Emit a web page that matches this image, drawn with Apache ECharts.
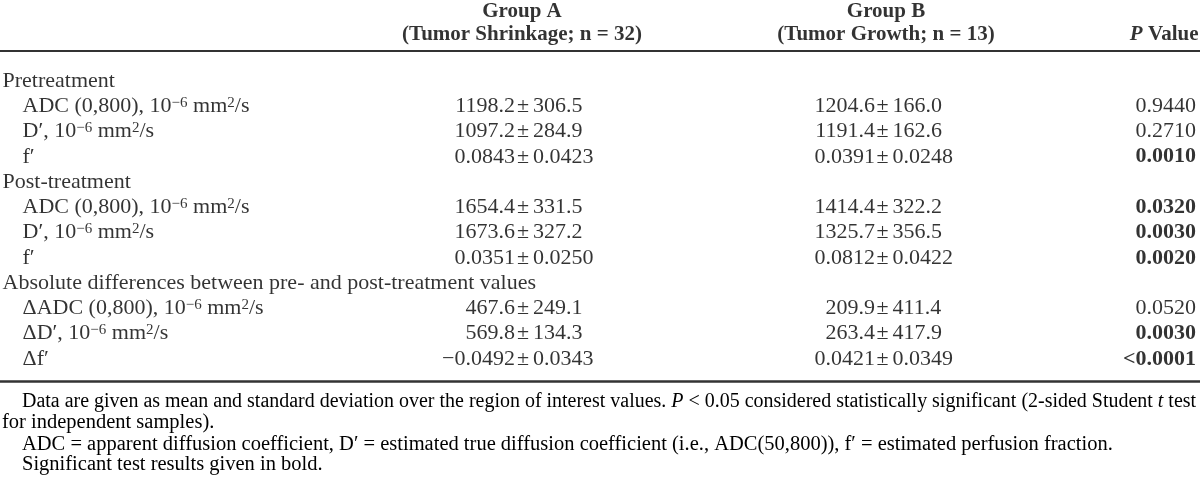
<!DOCTYPE html>
<html><head><meta charset="utf-8">
<script src="https://cdn.jsdelivr.net/npm/echarts@6/dist/echarts.min.js"></script>
<style>html,body{margin:0;padding:0;background:#fff}#c{width:1200px;height:482px}</style>
</head><body><div id="c"></div>
<script>
// ---------- DATA ----------
const sectionLabels = ['Pretreatment', 'Post-treatment', 'Absolute differences between pre- and post-treatment values'];
const measureLabels = ['ADC (0,800), 10{sup|\u22126} mm{sup|2}/s', 'D\u2032, 10{sup|\u22126} mm{sup|2}/s', 'f\u2032'];
const deltaLabels = ['\u0394ADC (0,800), 10{sup|\u22126} mm{sup|2}/s', '\u0394D\u2032, 10{sup|\u22126} mm{sup|2}/s', '\u0394f\u2032'];
const groupAMean = ['1198.2', '1097.2', '0.0843', '1654.4', '1673.6', '0.0351', '467.6', '569.8', '\u22120.0492'];
const groupASD   = ['306.5', '284.9', '0.0423', '331.5', '327.2', '0.0250', '249.1', '134.3', '0.0343'];
const groupBMean = ['1204.6', '1191.4', '0.0391', '1414.4', '1325.7', '0.0812', '209.9', '263.4', '0.0421'];
const groupBSD   = ['166.0', '162.6', '0.0248', '322.2', '356.5', '0.0422', '411.4', '417.9', '0.0349'];
const pValues    = ['0.9440', '0.2710', '0.0010', '0.0320', '0.0030', '0.0020', '0.0520', '0.0030', '<0.0001'];
const headerA = ['Group A', '(Tumor Shrinkage; n = 32)'];
const headerB = ['Group B', '(Tumor Growth; n = 13)'];
const headerP = '{i|P} Value';
const notes = [
  'Data are given as mean and standard deviation over the region of interest values. {i|P} < 0.05 considered statistically significant (2-sided Student {i|t} test',
  'for independent samples).',
  'ADC = apparent diffusion coefficient, D\u2032 = estimated true diffusion coefficient (i.e., ADC(50,800)), f\u2032 = estimated perfusion fraction.',
  'Significant test results given in bold.'
];

// ---------- LAYOUT (positions in axis units) ----------
const X = {section: 2, measure: 22, aMeanR: 515.5, aPm: 523, aSdL: 532.5, bMeanR: 875.5, bPm: 882.5, bSdL: 892, pR: 1196.5, aHead: 522, bHead: 886, pHead: 1199};
const HEAD_ROWS = [-2.73, -1.82];
const FONT = '"Liberation Serif", "Times New Roman", serif';
const FS = 22;
const HFS = 21;
const COLOR = '#000';
const RULE = '#333';

// build rows
const rows = [];
sectionLabels.forEach((s, si) => {
  rows.push({label: s, section: true});
  const labs = si === 2 ? deltaLabels : measureLabels;
  labs.forEach((l, mi) => rows.push({label: l, section: false, k: si * 3 + mi}));
});

const RICH = {
  sup: {fontFamily: FONT, fontSize: 15, lineHeight: 10, verticalAlign: 'top', color: COLOR},
  i: {fontFamily: FONT, fontSize: FS, fontStyle: 'italic', color: COLOR},
  bi: {fontFamily: FONT, fontSize: HFS, fontStyle: 'italic', fontWeight: 'bold', color: COLOR}
};

function textSeries(points, position, extra) {
  return {
    type: 'scatter', xAxisIndex: 0, yAxisIndex: 0, symbolSize: 1, clip: false, silent: true,
    itemStyle: {color: 'rgba(0,0,0,0)'},
    data: points.map(p => ({value: [p.x, p.y], label: Object.assign({formatter: p.text}, p.label || {})})),
    label: Object.assign({show: true, position: position, distance: 0, color: COLOR, fontFamily: FONT,
      fontSize: FS, lineHeight: 22, textBorderWidth: 0, rich: RICH}, extra || {}),
    emphasis: {disabled: true}
  };
}

const labelPts = rows.map((r, i) => ({x: r.section ? X.section : X.measure, y: i, text: r.label}));
const valRows = rows.map((r, i) => ({r, i})).filter(o => !o.r.section);
const aMeanPts = valRows.map(o => ({x: X.aMeanR, y: o.i, text: groupAMean[o.r.k]}));
const aPmPts = valRows.map(o => ({x: X.aPm, y: o.i, text: '\u00b1'}));
const aSdPts = valRows.map(o => ({x: X.aSdL, y: o.i, text: groupASD[o.r.k]}));
const bMeanPts = valRows.map(o => ({x: X.bMeanR, y: o.i, text: groupBMean[o.r.k]}));
const bPmPts = valRows.map(o => ({x: X.bPm, y: o.i, text: '\u00b1'}));
const bSdPts = valRows.map(o => ({x: X.bSdL, y: o.i, text: groupBSD[o.r.k]}));
const pPts = valRows.map(o => {
  const t = pValues[o.r.k];
  const sig = parseFloat(t.replace('<', '')) < 0.05;
  return {x: X.pR, y: o.i, text: t, label: {fontWeight: sig ? 'bold' : 'normal'}};
});
const headCenterPts = [
  {x: X.aHead, y: HEAD_ROWS[0], text: headerA[0]}, {x: X.aHead, y: HEAD_ROWS[1], text: headerA[1]},
  {x: X.bHead, y: HEAD_ROWS[0], text: headerB[0]}, {x: X.bHead, y: HEAD_ROWS[1], text: headerB[1]}
];
const headPPts = [{x: X.pHead, y: HEAD_ROWS[1], text: headerP}];

const chart = echarts.init(document.getElementById('c'), null, {renderer: 'canvas'});

// notes
const NFS = 20.5;
const nfont = NFS + 'px "Liberation Serif"';
const ctx = document.createElement('canvas').getContext('2d');
ctx.font = nfont;
const noteX = [22, 2, 22, 22];
const noteY = [402, 423, 445, 465];
const graphics = notes.map((t, i) => {
  let scaleX = 1;
  if (i === 0) {
    const plain = t.replace(/\{i\|([^}]*)\}/g, '$1');
    scaleX = (1195 - 22) / ctx.measureText(plain).width;
  }
  return {
    type: 'text', x: noteX[i], y: noteY[i], scaleX: scaleX, silent: true,
    style: {text: t, font: nfont, fill: COLOR, align: 'left', verticalAlign: 'middle',
      rich: {i: {font: 'italic ' + nfont, fill: COLOR}}}
  };
});

const ruleAxis = (pos, w) => ({
  type: 'value', min: 0, max: 1200, position: pos,
  axisLine: {show: true, onZero: false, lineStyle: {color: RULE, width: w}},
  axisTick: {show: false}, axisLabel: {show: false}, splitLine: {show: false}
});

chart.setOption({
  animation: false,
  backgroundColor: '#fff',
  grid: {left: 0, right: 0, top: 51, bottom: 101, containLabel: false},
  xAxis: [ruleAxis('top', 2), ruleAxis('bottom', 2.5)],
  yAxis: {type: 'value', inverse: true, min: -1.187, max: 11.872, show: false},
  series: [
    textSeries(labelPts, 'right'),
    textSeries(aMeanPts, 'left'), textSeries(aPmPts, 'inside'), textSeries(aSdPts, 'right'),
    textSeries(bMeanPts, 'left'), textSeries(bPmPts, 'inside'), textSeries(bSdPts, 'right'),
    textSeries(pPts, 'left'),
    textSeries(headCenterPts, 'inside', {fontWeight: 'bold', fontSize: HFS}),
    textSeries(headPPts, 'left', {fontWeight: 'bold', fontSize: HFS, rich: Object.assign({}, RICH, {i: RICH.bi})})
  ],
  graphic: graphics
});
</script>
</body></html>
